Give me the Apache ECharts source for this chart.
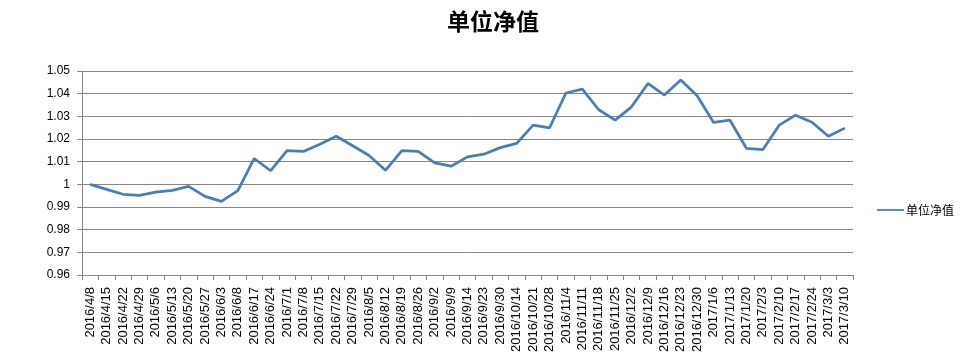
<!DOCTYPE html>
<html><head><meta charset="utf-8">
<script src="https://cdn.jsdelivr.net/npm/echarts@6/dist/echarts.min.js"></script>
<style>html,body{margin:0;padding:0;background:#fff}#c{width:962px;height:364px}</style>
</head><body><div id="c"></div>
<script>
const categories = ['2016/4/8','2016/4/15','2016/4/22','2016/4/29','2016/5/6','2016/5/13','2016/5/20','2016/5/27','2016/6/3','2016/6/8','2016/6/17','2016/6/24','2016/7/1','2016/7/8','2016/7/15','2016/7/22','2016/7/29','2016/8/5','2016/8/12','2016/8/19','2016/8/26','2016/9/2','2016/9/9','2016/9/14','2016/9/23','2016/9/30','2016/10/14','2016/10/21','2016/10/28','2016/11/4','2016/11/11','2016/11/18','2016/11/25','2016/12/2','2016/12/9','2016/12/16','2016/12/23','2016/12/30','2017/1/6','2017/1/13','2017/1/20','2017/2/3','2017/2/10','2017/2/17','2017/2/24','2017/3/3','2017/3/10'];
const navValues = [1.0000,0.9978,0.9956,0.9951,0.9966,0.9973,0.9991,0.9947,0.9925,0.9972,1.0114,1.0060,1.0149,1.0145,1.0177,1.0212,1.0170,1.0127,1.0062,1.0149,1.0145,1.0095,1.0080,1.0121,1.0133,1.0162,1.0181,1.0261,1.0249,1.0403,1.0420,1.0329,1.0283,1.0342,1.0445,1.0394,1.0460,1.0391,1.0273,1.0283,1.0159,1.0153,1.0261,1.0305,1.0274,1.0212,1.0248];
const seriesName = '单位净值';
const yMin = 0.96, yMax = 1.05, yStep = 0.01;

const chart = echarts.init(document.getElementById('c'));
chart.setOption({
  animation: false,
  title: { text: seriesName, left: 442, top: 5,
    textStyle: { fontFamily: 'Noto Sans CJK SC', fontSize: 23, fontWeight: 'bold', color: '#000' } },
  legend: { orient: 'vertical', left: 872, top: 199, itemWidth: 27, itemHeight: 10, itemGap: 4,
    icon: 'path://M0,4L30,4L30,6L0,6Z',
    textStyle: { fontFamily: 'Noto Sans CJK SC', fontSize: 12, color: '#000', padding: [0,0,0,-3] },
    data: [seriesName] },
  grid: { left: 82, right: 109, top: 71, bottom: 89, containLabel: false },
  xAxis: { type: 'category', data: categories, boundaryGap: true,
    axisLine: { lineStyle: { color: '#868686', width: 1 } },
    axisTick: { show: true, alignWithLabel: false, length: 5, lineStyle: { color: '#868686' } },
    axisLabel: { rotate: 90, interval: 0, fontFamily: 'Liberation Sans, Arial', fontSize: 13, color: '#000', margin: 12 } },
  yAxis: { type: 'value', min: yMin, max: yMax, interval: yStep,
    axisLine: { show: true, lineStyle: { color: '#868686', width: 1 } },
    axisTick: { show: true, length: 5, lineStyle: { color: '#868686' } },
    splitLine: { lineStyle: { color: '#868686', width: 1 } },
    axisLabel: { fontFamily: 'Liberation Sans, Arial', fontSize: 12, color: '#000', margin: 12,
      formatter: v => String(+v.toFixed(2)) } },
  series: [{ name: seriesName, type: 'line', data: navValues, symbol: 'none',
    lineStyle: { color: '#4a7ebb', width: 2.75 }, itemStyle: { color: '#4a7ebb' } }]
});
</script></body></html>
